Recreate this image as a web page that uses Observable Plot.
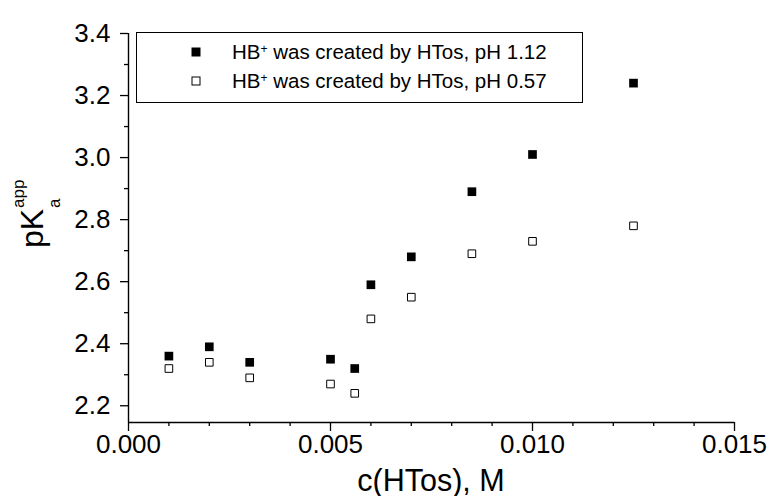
<!DOCTYPE html>
<html>
<head>
<meta charset="utf-8">
<script src="https://cdn.jsdelivr.net/npm/d3@7"></script>
<script src="https://cdn.jsdelivr.net/npm/@observablehq/plot@0.6"></script>
<style>
  html, body { margin: 0; padding: 0; background: white; }
  #chart { width: 770px; height: 496px; }
</style>
</head>
<body>
<div id="chart"></div>
<script>
// ---- data ----
const cHTos = [0.001, 0.002, 0.003, 0.005, 0.0056, 0.006, 0.007, 0.0085, 0.010, 0.0125];
const pKa_pH112 = [2.36, 2.39, 2.34, 2.35, 2.32, 2.59, 2.68, 2.89, 3.01, 3.24];
const pKa_pH057 = [2.32, 2.34, 2.29, 2.27, 2.24, 2.48, 2.55, 2.69, 2.73, 2.78];
const seriesNames = ["HB", " was created by HTos, pH 1.12", " was created by HTos, pH 0.57"];
const xMajorTicks = [0, 0.005, 0.010, 0.015];
const xMinorTicks = [0.001, 0.002, 0.003, 0.004, 0.006, 0.007, 0.008, 0.009, 0.011, 0.012, 0.013, 0.014];
const yMajorTicks = [2.2, 2.4, 2.6, 2.8, 3.0, 3.2, 3.4];
const yMinorTicks = [2.3, 2.5, 2.7, 2.9, 3.1, 3.3];
const xTitle = "c(HTos), M";

const idx = cHTos.map((_, i) => i);
const font = "'Liberation Sans', Arial, Helvetica, sans-serif";
const yMin = 2.146;

const chart = Plot.plot({
  width: 770,
  height: 496,
  marginLeft: 128,
  marginRight: 36,
  marginTop: 33,
  marginBottom: 74,
  style: { fontFamily: font, background: "white", color: "black", overflow: "visible" },
  x: { domain: [0, 0.015] },
  y: { domain: [yMin, 3.4] },
  marks: [
    Plot.ruleX([0], { y1: yMin, y2: 3.4, stroke: "black", strokeWidth: 1.4 }),
    Plot.ruleY([yMin], { x1: 0, x2: 0.015, stroke: "black", strokeWidth: 1.4 }),
    Plot.axisX(xMajorTicks, { tickSize: 9, tickPadding: 3, tickFormat: d3.format(".3f"), fontSize: 26, label: null, strokeWidth: 1.3 }),
    Plot.axisX(xMinorTicks, { tickSize: 4, tickFormat: () => "", label: null, strokeWidth: 1.3 }),
    Plot.axisY(yMajorTicks, { tickSize: 8, tickPadding: 10, tickFormat: d3.format(".1f"), fontSize: 26, label: null, strokeWidth: 1.3 }),
    Plot.axisY(yMinorTicks, { tickSize: 4, tickFormat: () => "", label: null, strokeWidth: 1.3 }),
    Plot.dot(idx, { x: i => cHTos[i], y: i => pKa_pH112[i], symbol: "square", r: 4.9, fill: "black", stroke: "none" }),
    Plot.dot(idx, { x: i => cHTos[i], y: i => pKa_pH057[i], symbol: "square", r: 4.3, fill: "white", stroke: "black", strokeWidth: 1 })
  ]
});
document.getElementById("chart").appendChild(chart);

const svg = d3.select(chart);
const xs = chart.scale("x");
const xc = (xs.range[0] + xs.range[1]) / 2;

// x title
svg.append("text")
  .attr("x", xc).attr("y", 491)
  .attr("text-anchor", "middle")
  .attr("font-family", font).attr("font-size", 30.5).attr("fill", "black")
  .text(xTitle);

// y title: pK_a^app
const gy = svg.append("g").attr("transform", "translate(43,248) rotate(-90)")
  .attr("font-family", font).attr("fill", "black").attr("text-anchor", "start");
gy.append("text").attr("x", 0).attr("y", 0).attr("font-size", 32).attr("text-anchor", "start").text("pK");
gy.append("text").attr("x", 40).attr("y", 17).attr("font-size", 17).attr("text-anchor", "start").text("a");
gy.append("text").attr("x", 40).attr("y", -19).attr("font-size", 17).attr("text-anchor", "start").text("app");

// legend
const leg = svg.append("g").attr("font-family", font).attr("fill", "black").attr("text-anchor", "start");
leg.append("rect").attr("x", 136.5).attr("y", 32.5).attr("width", 446).attr("height", 70)
  .attr("fill", "white").attr("stroke", "black").attr("stroke-width", 1);
const rows = [
  { y: 52, fill: "black", stroke: "none", size: 9, label: seriesNames[1] },
  { y: 81, fill: "white", stroke: "black", size: 8, label: seriesNames[2] }
];
rows.forEach(r => {
  leg.append("rect").attr("x", 196 - r.size / 2).attr("y", r.y - r.size / 2)
    .attr("width", r.size).attr("height", r.size)
    .attr("fill", r.fill).attr("stroke", r.stroke).attr("stroke-width", 1);
  const t = leg.append("text").attr("x", 232).attr("y", r.y + 7).attr("font-size", 20.5).attr("text-anchor", "start");
  t.append("tspan").text(seriesNames[0]);
  t.append("tspan").attr("dy", -6).attr("font-size", 12).text("+");
  t.append("tspan").attr("dy", 6).attr("font-size", 20.5).text(r.label);
});
</script>
</body>
</html>
